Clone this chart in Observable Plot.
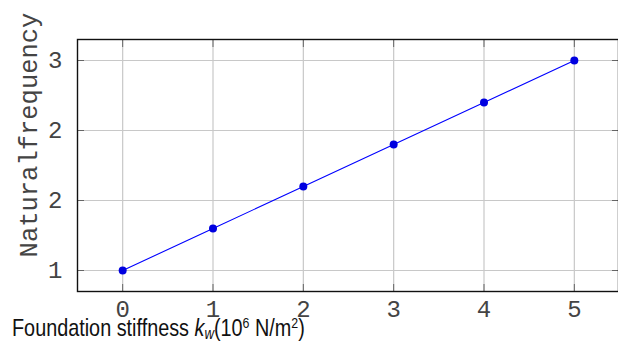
<!DOCTYPE html>
<html>
<head>
<meta charset="utf-8">
<script src="https://cdn.jsdelivr.net/npm/d3@7"></script>
<script src="https://cdn.jsdelivr.net/npm/@observablehq/plot@0.6"></script>
<style>
  html, body { margin: 0; padding: 0; background: #fff; }
  svg { display: block; }
</style>
</head>
<body>
<div id="chart"></div>
<script>
const stiffness = [0, 1, 2, 3, 4, 5];
const frequency = [1.0, 1.4, 1.8, 2.2, 2.6, 3.0];
const xTicks = [0, 1, 2, 3, 4, 5];
const yTicks = [1, 5 / 3, 7 / 3, 3];
const yLabel = "Naturalfrequency";

const data = stiffness.map((s, i) => ({x: s, y: frequency[i]}));

const monoFont = "'Liberation Mono', 'Courier New', monospace";
const gridColor = "#c8c8c8";
const tickColor = "#666";
const textColor = "#444";

const chart = Plot.plot({
  width: 618,
  height: 343,
  marginLeft: 77,
  marginRight: 0,
  marginTop: 39,
  marginBottom: 52,
  style: {fontFamily: monoFont, fontSize: "24px", color: textColor, background: "#fff", overflow: "visible"},
  x: {domain: [-0.5, 5.5], range: [77, 619]},
  y: {domain: [0.8, 3.2], range: [291, 39]},
  marks: [
    Plot.gridX(xTicks, {stroke: gridColor, strokeOpacity: 1, strokeWidth: 1.2}),
    Plot.gridY(yTicks, {stroke: gridColor, strokeOpacity: 1, strokeWidth: 1.2}),
    Plot.axisX({ticks: xTicks, anchor: "bottom", tickSize: -7, stroke: tickColor, tickFormat: () => "", label: null}),
    Plot.axisX({ticks: xTicks, anchor: "top", tickSize: -7, stroke: tickColor, tickFormat: () => "", label: null}),
    Plot.axisY({ticks: yTicks, anchor: "left", tickSize: -7, stroke: tickColor, tickFormat: () => "", label: null}),
    Plot.axisY({ticks: yTicks, anchor: "right", tickSize: -7, stroke: tickColor, tickFormat: () => "", label: null}),
    Plot.axisX({ticks: xTicks, anchor: "bottom", tickSize: 0, tickPadding: 8, tickFormat: d3.format("d"), label: null, fontSize: 24, fill: textColor}),
    Plot.axisY({ticks: yTicks, anchor: "left", tickSize: 0, tickPadding: 15, tickFormat: d3.format(".0f"), label: null, fontSize: 24, fill: textColor}),
    Plot.frame({stroke: "#111", strokeWidth: 1.4}),
    Plot.line(data, {x: "x", y: "y", stroke: "#0000ff", strokeWidth: 1.1}),
    Plot.dot(data, {x: "x", y: "y", r: 4, fill: "#0000e0", stroke: "none"})
  ]
});

document.getElementById("chart").appendChild(chart);
const svg = d3.select(chart);

// y-axis label (rotated, monospace)
svg.append("text")
  .attr("transform", "translate(37,135) rotate(-90)")
  .attr("text-anchor", "middle")
  .attr("font-family", monoFont)
  .attr("font-size", 25.5)
  .attr("fill", textColor)
  .text(yLabel);

// x-axis label with italic symbol, subscript and superscripts (condensed)
const xg = svg.append("g");
const xl = xg.append("text")
  .attr("x", 0)
  .attr("y", 0)
  .attr("text-anchor", "start")
  .attr("font-family", "'Liberation Sans', Arial, sans-serif")
  .attr("font-size", 24)
  .attr("fill", "#111");
xl.append("tspan").text("Foundation stiffness ");
xl.append("tspan").attr("font-style", "italic").text("k");
xl.append("tspan").attr("font-style", "italic").attr("font-size", 16).attr("dy", 3).text("w");
xl.append("tspan").attr("dy", -3).text("(10");
xl.append("tspan").attr("font-size", 15).attr("dy", -8).text("6");
xl.append("tspan").attr("dy", 8).text(" N/m");
xl.append("tspan").attr("font-size", 15).attr("dy", -8).text("2");
xl.append("tspan").attr("dy", 8).text(")");
const bb = xl.node().getBBox();
const sx = 293 / bb.width;
xg.attr("transform", `translate(12,336) scale(${sx},1)`);
</script>
</body>
</html>
